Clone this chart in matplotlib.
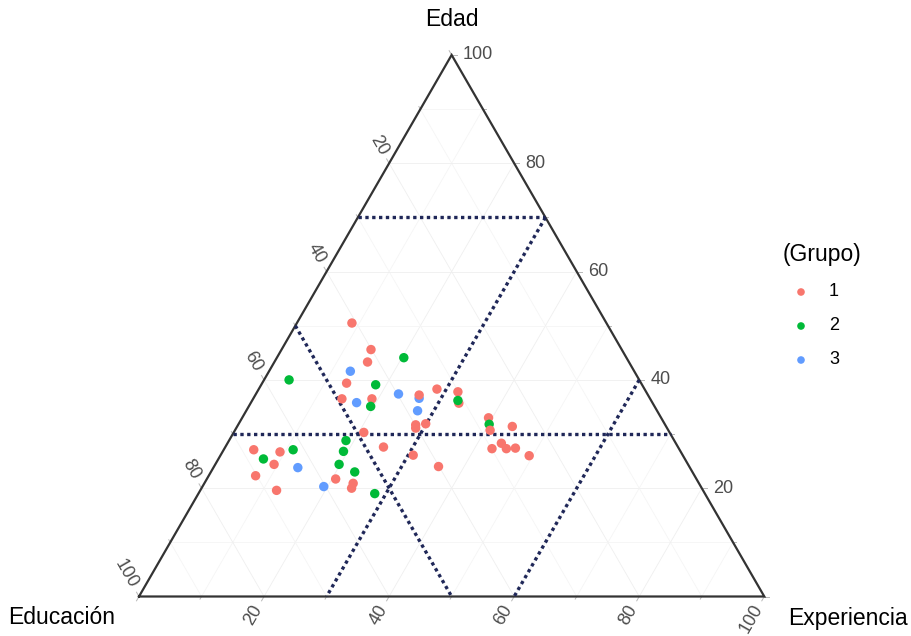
import matplotlib
matplotlib.use('Agg')
import matplotlib.pyplot as plt
import numpy as np

plt.rcParams['font.family'] = ['Liberation Sans', 'DejaVu Sans']

# data (percent), drawing order kept as in the picture
educacion = [40.7, 40.1, 41.8, 47.1, 49.3, 44.5, 39.9, 40.2, 38.2, 48.9, 47.1, 43.1,
             40.1, 33.2, 30.1, 31.0, 27.6, 24.6, 29.9, 27.9, 27.6, 26.1, 24.6, 68.1,
             64.1, 66.2, 70.2, 68.2, 57.7, 55.3, 56.0,
             35.6, 56.0, 42.6, 45.4, 30.9, 28.1, 52.5, 53.9, 61.8, 67.4, 55.8, 54.0, 52.8,
             45.4, 47.3, 39.8, 36.9, 38.3, 62.7, 60.3,
             36.6, 28.5]
edad = [50.5, 45.6, 43.3, 39.4, 36.5, 36.5, 31.7, 31.1, 31.9, 30.3, 27.6, 26.1,
        24.0, 38.3, 37.8, 35.7, 33.0, 31.4, 27.3, 28.3, 27.3, 27.4, 26.0, 27.1,
        26.7, 24.4, 22.3, 19.6, 21.7, 20.9, 20.0,
        44.1, 40.0, 39.1, 35.1, 36.2, 31.8, 28.8, 26.8, 27.1, 25.4, 24.4, 23.0, 19.0,
        41.6, 35.8, 37.4, 36.6, 34.3, 23.8, 20.3,
        37.2, 30.7]
experiencia = [8.8, 14.3, 14.9, 13.5, 14.2, 19.0, 28.4, 28.7, 29.9, 20.8, 25.3, 30.8,
               35.9, 28.5, 32.1, 33.3, 39.4, 44.0, 42.8, 43.8, 45.1, 46.5, 49.4, 4.8,
               9.2, 9.4, 7.5, 12.2, 20.6, 23.8, 24.0,
               20.3, 4.0, 18.3, 19.5, 32.9, 40.1, 18.7, 19.3, 11.1, 7.2, 19.8, 23.0, 28.2,
               13.0, 16.9, 22.8, 26.5, 27.4, 13.5, 19.4,
               26.2, 40.8]
grupo = [1] * 31 + [2] * 13 + [3] * 7 + [1, 1]

colores = {1: '#F8766D', 2: '#00BA38', 3: '#619CFF'}
lineas_edad = [30, 70]
lineas_educacion = [50]
lineas_experiencia = [30, 60]

PX = 625.3  # pixels per unit side
H = np.sqrt(3) / 2


def tern(edu, ed, ex):
    edu, ed, ex = np.asarray(edu, float), np.asarray(ed, float), np.asarray(ex, float)
    s = edu + ed + ex
    return ex / s + ed / s / 2, ed / s * H


fig = plt.figure(figsize=(9.12, 6.36), dpi=100)
ax = fig.add_axes([0, 0, 1, 1])
ax.set_xlim(-139 / PX, 773 / PX)
ax.set_ylim((596.5 - 636) / PX, 596.5 / PX)
ax.axis('off')

# grid
for v in range(10, 100, 10):
    c = '#efefef' if v % 20 == 0 else '#f5f5f5'
    for a, b in [((100 - v, v, 0), (0, v, 100 - v)),
                 ((v, 100 - v, 0), (v, 0, 100 - v)),
                 ((0, 100 - v, v), (100 - v, 0, v))]:
        x0, y0 = tern(*a)
        x1, y1 = tern(*b)
        ax.plot([x0, x1], [y0, y1], color=c, lw=0.6, zorder=1)

# frame
ax.plot([0, 1, 0.5, 0], [0, 0, H, 0], color='#333333', lw=1.6, zorder=3,
        solid_joinstyle='miter')

# ticks and labels
def tick_set(points, ang, rot, ha):
    d = np.array([np.cos(np.radians(ang)), np.sin(np.radians(ang))]) / PX
    for v, (x, y) in zip(range(0, 101, 10), points):
        major = v % 20 == 0
        L = 5 if major else 3
        ax.plot([x, x + d[0] * L], [y, y + d[1] * L], color='#b8b8b8', lw=0.7, zorder=2)
        if major and v > 0:
            ax.text(x + d[0] * 11, y + d[1] * 11, str(v), rotation=rot, ha=ha, va='center',
                    rotation_mode='anchor', fontsize=13, color='#4d4d4d')

vals = np.arange(0, 101, 10)
tick_set(zip(*tern(np.zeros(11), vals, 100 - vals)), 0, 0, 'left')
tick_set(zip(*tern(vals, 100 - vals, np.zeros(11))), 120, -60, 'right')
tick_set(zip(*tern(100 - vals, np.zeros(11), vals)), 240, 60, 'right')

# reference lines
estilo = dict(color='#1f2758', lw=2.4, linestyle=(0, (1, 1.05)), dash_capstyle='butt', zorder=4)
for v in lineas_edad:
    x, y = tern([100 - v, 0], [v, v], [0, 100 - v])
    ax.plot(x, y, **estilo)
for v in lineas_educacion:
    x, y = tern([v, v], [100 - v, 0], [0, 100 - v])
    ax.plot(x, y, **estilo)
for v in lineas_experiencia:
    x, y = tern([0, 100 - v], [100 - v, 0], [v, v])
    ax.plot(x, y, **estilo)

# points
px, py = tern(educacion, edad, experiencia)
ax.scatter(px, py, s=46, c=[colores[g] for g in grupo], edgecolors='none', zorder=5)

# axis titles
ax.text(0.5, (596.5 - 19) / PX, 'Edad', ha='center', va='center', fontsize=16.5)
ax.text((62 - 139) / PX, (596.5 - 618) / PX, 'Educación', ha='center', va='center', fontsize=16.5)
ax.text((848 - 139) / PX, (596.5 - 618) / PX, 'Experiencia', ha='center', va='center', fontsize=16.5)

# legend
ax.text((822 - 139) / PX, (596.5 - 255) / PX, '(Grupo)', ha='center', va='center', fontsize=16.5)
for i, g in enumerate([1, 2, 3]):
    yy = (596.5 - (292 + 34 * i)) / PX
    ax.scatter([(801 - 139) / PX], [yy], s=30, c=colores[g], edgecolors='none')
    ax.text((829 - 139) / PX, yy, str(g), ha='left', va='center', fontsize=13)

fig.savefig('out.png', dpi=100, facecolor='w')
